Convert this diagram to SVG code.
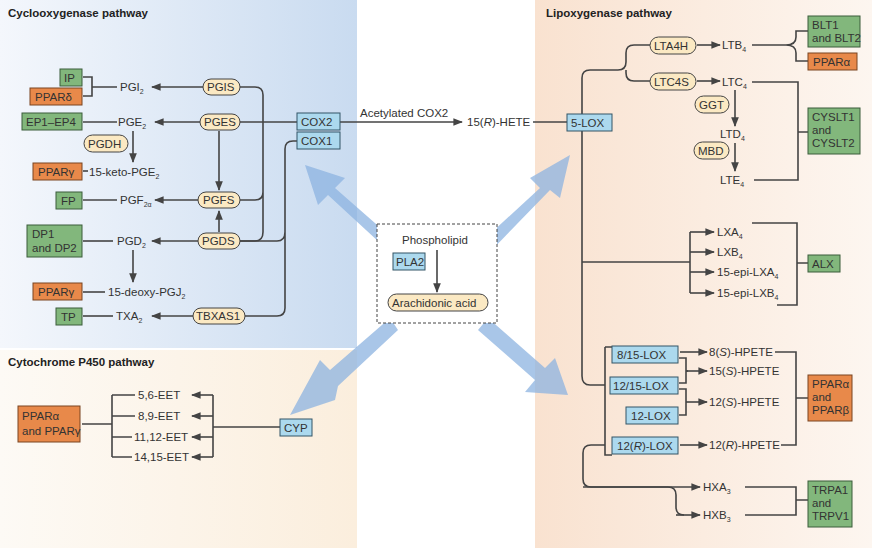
<svg xmlns="http://www.w3.org/2000/svg" width="872" height="548" viewBox="0 0 872 548">
<defs>
<linearGradient id="gB" x1="0" x2="1" y1="0" y2="0"><stop offset="0" stop-color="#f4f7fc"/><stop offset="1" stop-color="#c9dbf0"/></linearGradient>
<linearGradient id="gP" x1="0" x2="1"><stop offset="0" stop-color="#f9e2d0"/><stop offset="1" stop-color="#fdf6f0"/></linearGradient>
<linearGradient id="gC" x1="0" x2="1"><stop offset="0" stop-color="#fdfaf5"/><stop offset="1" stop-color="#fbeedd"/></linearGradient>
<marker id="a" viewBox="0 0 10 10" refX="9" refY="5" markerWidth="6" markerHeight="6" orient="auto-start-reverse"><path d="M0,1 L10,5 L0,9 z" fill="#444"/></marker>
<style>
text{font-family:"Liberation Sans",Arial,sans-serif;font-size:11.5px;fill:#333}
.t{font-weight:bold;font-size:11.5px;fill:#222}
.g{fill:#82b77c;stroke:#3b5d3b;stroke-width:1}
.o{fill:#e8894a;stroke:#7a4420;stroke-width:1}
.b{fill:#acd9ee;stroke:#335566;stroke-width:1}
.e{fill:#fbe9c3;stroke:#444;stroke-width:1}
.l{fill:none;stroke:#444;stroke-width:1.6}
.ar{fill:none;stroke:#444;stroke-width:1.6;marker-end:url(#a)}
.big{fill:#8cb3e0;opacity:0.75}
</style>
</defs>
<rect width="872" height="548" fill="#fff"/>
<rect x="0" y="0" width="357" height="348" fill="url(#gB)"/>
<rect x="0" y="350" width="357" height="198" fill="url(#gC)"/>
<rect x="535" y="0" width="337" height="548" fill="url(#gP)"/>
<g id="bigarrows">
<polygon class="big" points="400,245 335,188 345,178 305,165 318,205 328,195 392,254"/>
<polygon class="big" points="478,245 540,188 530,178 570,155 560,198 550,190 488,254"/>
<polygon class="big" points="390,318 330,370 320,360 290,415 335,400 338,386 398,330"/>
<polygon class="big" points="488,318 545,368 555,358 568,395 525,392 535,380 478,330"/>
</g>
<text class="t" x="8" y="17">Cyclooxygenase pathway</text>
<text class="t" x="546" y="17">Lipoxygenase pathway</text>
<text class="t" x="8" y="366">Cytochrome P450 pathway</text>
<g id="connectors">
<path class="l" d="M83,77 H92 V96 H83 M92,87 H117"/>
<path class="ar" d="M203,87 H152"/>
<path class="l" d="M83,122 H117"/><path class="ar" d="M200,122 H155"/>
<path class="ar" d="M133,131 V162"/>
<path class="l" d="M83,171 H88"/>
<path class="l" d="M83,200 H117"/><path class="ar" d="M198,200 H155"/>
<path class="ar" d="M219,131 V190"/><path class="ar" d="M219,232 V211"/>
<path class="l" d="M83,241 H113"/><path class="ar" d="M198,241 H152"/>
<path class="ar" d="M133,250 V282"/>
<path class="l" d="M83,292 H105"/>
<path class="l" d="M83,316 H113"/><path class="ar" d="M193,316 H152"/>
<path class="l" d="M240,87 H255 Q263,87 263,95 V232 Q263,241 255,241 H240 M240,200 H255 Q263,200 263,192"/>
<path class="l" d="M240,122 H297"/>
<path class="l" d="M240,241 H277 Q285,241 285,232 V149 Q285,141 293,141 H297 M245,316 H277 Q285,316 285,308 V232"/>
<path class="ar" d="M340,122 H462"/>
<path class="l" d="M533,122 H567"/>
<path class="l" d="M582,114 V78 Q582,70 590,70 H618 Q626,70 626,62 V53 Q626,45 634,45 H650 M626,70 V73 Q626,81 634,81 H650"/>
<path class="ar" d="M697,45 H720"/><path class="ar" d="M697,81 H720"/>
<path class="l" d="M752,45 H786 M786,45 Q796,45 796,37 V31 H808 M786,45 Q796,45 796,53 V61 H808"/>
<path class="ar" d="M735,90 V126"/><path class="ar" d="M735,143 V171"/>
<path class="l" d="M752,82 H798 V180 H754 M798,132 H808"/>
<path class="l" d="M582,131 V376 Q582,385 590,385 H605 M582,262 H690 M605,347 H612 M605,347 V455 H612"/>
<path class="l" d="M690,232 V293"/>
<path class="ar" d="M690,232 H714"/><path class="ar" d="M690,252 H714"/><path class="ar" d="M690,272 H714"/><path class="ar" d="M690,293 H714"/>
<path class="l" d="M752,223 H797 V305 H777 M797,263 H808"/>
<path class="ar" d="M680,352 H707"/>
<path class="l" d="M679,358 H686 V383 H679 M686,371 H688"/><path class="ar" d="M686,371 H707"/>
<path class="l" d="M679,389 H686 V415 H679"/><path class="ar" d="M686,402 H707"/>
<path class="ar" d="M680,445 H707"/>
<path class="l" d="M775,352 H796 V445 H781 M796,398 H808"/>
<path class="l" d="M605,445 H591 Q583,445 583,453 V479 Q583,487 591,487 H668"/>
<path class="ar" d="M583,487 H700"/>
<path class="l" d="M668,487 Q676,487 676,495 V507 Q676,515 684,515"/><path class="ar" d="M676,515 H700"/>
<path class="l" d="M745,487 H796 V515 H745 M796,500 H808"/>
<path class="l" d="M82,424 H112 M112,395 V457 M112,395 H135 M112,416 H135 M112,437 H132 M112,457 H132"/>
<path class="l" d="M213,395 V457 M213,427 H280"/>
<path class="ar" d="M213,395 H192"/><path class="ar" d="M213,416 H192"/><path class="ar" d="M213,437 H192"/><path class="ar" d="M213,457 H192"/>
</g>
<g id="cox">
<g id="IP"><rect class="g" x="60" y="69" width="22" height="17"/><text x="64" y="82">IP</text></g>
<g id="PPARd"><rect class="o" x="30" y="88" width="52" height="17"/><text x="35" y="101">PPARδ</text></g>
<text x="120" y="91">PGI<tspan font-size="7" dy="3">2</tspan></text>
<g id="PGIS"><rect class="e" x="203" y="79" width="37" height="16" rx="8"/><text x="207" y="91">PGIS</text></g>
<g id="EP"><rect class="g" x="22" y="113" width="60" height="17"/><text x="26" y="126">EP1–EP4</text></g>
<text x="118" y="126">PGE<tspan font-size="7" dy="3">2</tspan></text>
<g id="PGES"><rect class="e" x="200" y="114" width="40" height="16" rx="8"/><text x="204" y="126">PGES</text></g>
<g id="PGDH"><rect class="e" x="84" y="135" width="44" height="17" rx="8.5"/><text x="88" y="148">PGDH</text></g>
<g id="PPARg1"><rect class="o" x="33" y="163" width="49" height="17"/><text x="38" y="176">PPARγ</text></g>
<text x="89" y="176">15-keto-PGE<tspan font-size="7" dy="3">2</tspan></text>
<g id="FP"><rect class="g" x="56" y="192" width="26" height="17"/><text x="61" y="205">FP</text></g>
<text x="120" y="204">PGF<tspan font-size="7" dy="3">2α</tspan></text>
<g id="PGFS"><rect class="e" x="198" y="192" width="42" height="16" rx="8"/><text x="203" y="204">PGFS</text></g>
<g id="DP"><rect class="g" x="27" y="225" width="55" height="32"/><text x="32" y="238">DP1</text><text x="32" y="252">and DP2</text></g>
<text x="117" y="245">PGD<tspan font-size="7" dy="3">2</tspan></text>
<g id="PGDS"><rect class="e" x="198" y="233" width="42" height="16" rx="8"/><text x="202" y="245">PGDS</text></g>
<g id="PPARg2"><rect class="o" x="33" y="283" width="49" height="17"/><text x="38" y="296">PPARγ</text></g>
<text x="108" y="296">15-deoxy-PGJ<tspan font-size="7" dy="3">2</tspan></text>
<g id="TP"><rect class="g" x="56" y="308" width="26" height="17"/><text x="61" y="321">TP</text></g>
<text x="116" y="320">TXA<tspan font-size="7" dy="3">2</tspan></text>
<g id="TBXAS1"><rect class="e" x="193" y="308" width="52" height="16" rx="8"/><text x="196" y="320">TBXAS1</text></g>
<g id="COX2"><rect class="b" x="297" y="113" width="43" height="17"/><text x="301" y="126">COX2</text></g>
<g id="COX1"><rect class="b" x="297" y="132" width="43" height="17"/><text x="301" y="145">COX1</text></g>
</g>
<text x="360" y="117">Acetylated COX2</text>
<text x="467" y="126">15(<tspan font-style="italic">R</tspan>)-HETE</text>
<g id="center">
<rect x="377" y="224" width="120" height="99" fill="#fff" stroke="#444" stroke-dasharray="3,2"/>
<text x="402" y="244">Phospholipid</text>
<path class="ar" d="M437,250 V292"/>
<g id="PLA2"><rect class="b" x="393" y="253" width="32" height="17"/><text x="396" y="266">PLA2</text></g>
<g id="AA"><rect class="e" x="388" y="294" width="100" height="17" rx="8.5"/><text x="392" y="307">Arachidonic acid</text></g>
</g>
<g id="lox">
<g id="LOX5"><rect class="b" x="567" y="114" width="45" height="17"/><text x="571" y="127">5-LOX</text></g>
<g id="LTA4H"><rect class="e" x="650" y="37" width="46" height="17" rx="8.5"/><text x="654" y="50">LTA4H</text></g>
<g id="LTC4S"><rect class="e" x="650" y="73" width="46" height="17" rx="8.5"/><text x="654" y="86">LTC4S</text></g>
<text x="722" y="49">LTB<tspan font-size="7" dy="3">4</tspan></text>
<text x="722" y="86">LTC<tspan font-size="7" dy="3">4</tspan></text>
<g id="BLT"><rect class="g" x="808" y="16" width="52" height="31"/><text x="812" y="29">BLT1</text><text x="812" y="42">and BLT2</text></g>
<g id="PPARa1"><rect class="o" x="808" y="53" width="49" height="17"/><text x="813" y="66">PPARα</text></g>
<g id="GGT"><rect class="e" x="695" y="96" width="34" height="17" rx="8.5"/><text x="699" y="109">GGT</text></g>
<text x="720" y="138">LTD<tspan font-size="7" dy="3">4</tspan></text>
<g id="MBD"><rect class="e" x="694" y="142" width="35" height="17" rx="8.5"/><text x="698" y="155">MBD</text></g>
<text x="720" y="184">LTE<tspan font-size="7" dy="3">4</tspan></text>
<g id="CYSLT"><rect class="g" x="808" y="108" width="52" height="46"/><text x="812" y="121">CYSLT1</text><text x="812" y="134">and</text><text x="812" y="147">CYSLT2</text></g>
<text x="717" y="236">LXA<tspan font-size="7" dy="3">4</tspan></text>
<text x="717" y="256">LXB<tspan font-size="7" dy="3">4</tspan></text>
<text x="717" y="276">15-epi-LXA<tspan font-size="7" dy="3">4</tspan></text>
<text x="717" y="297">15-epi-LXB<tspan font-size="7" dy="3">4</tspan></text>
<g id="ALX"><rect class="g" x="808" y="255" width="32" height="17"/><text x="812" y="268">ALX</text></g>
<g id="L815"><rect class="b" x="612" y="346" width="66" height="17"/><text x="617" y="359">8/15-LOX</text></g>
<g id="L1215"><rect class="b" x="610" y="377" width="68" height="17"/><text x="613" y="390">12/15-LOX</text></g>
<g id="L12"><rect class="b" x="626" y="407" width="52" height="17"/><text x="631" y="420">12-LOX</text></g>
<g id="L12R"><rect class="b" x="612" y="437" width="66" height="17"/><text x="617" y="450">12(<tspan font-style="italic">R</tspan>)-LOX</text></g>
<text x="709" y="356">8(<tspan font-style="italic">S</tspan>)-HPETE</text>
<text x="709" y="375">15(<tspan font-style="italic">S</tspan>)-HPETE</text>
<text x="709" y="406">12(<tspan font-style="italic">S</tspan>)-HPETE</text>
<text x="709" y="449">12(<tspan font-style="italic">R</tspan>)-HPETE</text>
<g id="PPARab"><rect class="o" x="808" y="375" width="44" height="46"/><text x="812" y="388">PPARα</text><text x="812" y="401">and</text><text x="812" y="414">PPARβ</text></g>
<text x="703" y="491">HXA<tspan font-size="7" dy="3">3</tspan></text>
<text x="703" y="519">HXB<tspan font-size="7" dy="3">3</tspan></text>
<g id="TRP"><rect class="g" x="808" y="481" width="44" height="46"/><text x="812" y="494">TRPA1</text><text x="812" y="507">and</text><text x="812" y="520">TRPV1</text></g>
</g>
<g id="cyp">
<g id="PPARag"><rect class="o" x="18" y="406" width="62" height="36"/><text x="22" y="420">PPARα</text><text x="22" y="435">and PPARγ</text></g>
<text x="138" y="399">5,6-EET</text>
<text x="138" y="420">8,9-EET</text>
<text x="134" y="441">11,12-EET</text>
<text x="134" y="461">14,15-EET</text>
<g id="CYP"><rect class="b" x="280" y="419" width="32" height="17"/><text x="284" y="432">CYP</text></g>
</g>
</svg>
